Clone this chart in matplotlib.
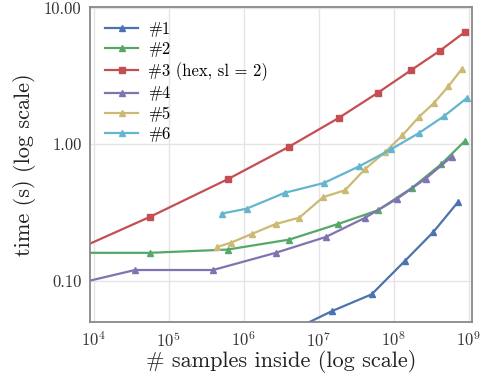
import numpy as np
import matplotlib
matplotlib.use("Agg")
import matplotlib.pyplot as plt
from matplotlib.ticker import FixedLocator, FormatStrFormatter, NullLocator

plt.rcParams['font.family'] = 'serif'
plt.rcParams['font.serif'] = ['cmr10', 'DejaVu Serif']
plt.rcParams['mathtext.fontset'] = 'cm'
plt.rcParams['axes.formatter.use_mathtext'] = True
plt.rcParams['axes.unicode_minus'] = False

# samples inside / time (s)
x1 = [4.0e6, 1.49e7, 5.08e7, 1.40e8, 3.38e8, 7.28e8]
y1 = [0.042, 0.0597, 0.0794, 0.139, 0.2275, 0.380]

x2 = [7.0e3, 5.57e4, 6.08e5, 4.04e6, 1.80e7, 6.14e7, 1.77e8, 4.28e8, 8.95e8]
y2 = [0.160, 0.160, 0.169, 0.200, 0.260, 0.328, 0.481, 0.713, 1.06]

x3 = [7.0e3, 5.57e4, 6.1e5, 3.96e6, 1.85e7, 6.1e7, 1.70e8, 4.11e8, 8.95e8]
y3 = [0.176, 0.293, 0.554, 0.955, 1.56, 2.38, 3.49, 4.84, 6.67]

x4 = [7.0e3, 3.55e4, 3.90e5, 2.67e6, 1.24e7, 4.10e7, 1.12e8, 2.67e8, 5.91e8]
y4 = [0.097, 0.1197, 0.1197, 0.160, 0.209, 0.288, 0.400, 0.560, 0.810]

x5 = [4.42e5, 6.79e5, 1.28e6, 2.66e6, 5.52e6, 1.15e7, 2.24e7, 4.20e7,
      7.73e7, 1.30e8, 2.18e8, 3.45e8, 5.36e8, 8.17e8]
y5 = [0.1765, 0.190, 0.220, 0.260, 0.290, 0.410, 0.460, 0.663,
      0.878, 1.16, 1.59, 2.01, 2.66, 3.59]

x6 = [5.06e5, 1.09e6, 3.54e6, 1.17e7, 3.48e7, 9.14e7, 2.18e8, 4.70e8, 9.53e8]
y6 = [0.310, 0.337, 0.441, 0.520, 0.690, 0.916, 1.21, 1.61, 2.19]

labels = ['#1', '#2', '#3 (hex, sl = 2)', '#4', '#5', '#6']
colors = ['#4C72B0', '#55A868', '#C44E52', '#8172B2', '#CCB974', '#64B5CD']
markers = ['^', '^', 's', '^', '^', '^']

fig = plt.figure(figsize=(4.83, 3.83), dpi=100)
ax = fig.add_axes([0.1863, 0.160, 0.7903, 0.8225])

series = [(x1, y1), (x2, y2), (x3, y3), (x4, y4), (x5, y5), (x6, y6)]
for (xs, ys), lab, c, m in zip(series, labels, colors, markers):
    ax.plot(xs, ys, color=c, marker=m, label=lab, lw=1.6,
            ms=5 if m == 's' else 4.5, mec=c)

ax.set_xscale('log')
ax.set_yscale('log')
ax.set_xlim(10**3.95, 10**9.04)
ax.set_ylim(0.05, 10.2)

ax.xaxis.set_major_locator(FixedLocator([1e4, 1e5, 1e6, 1e7, 1e8, 1e9]))
ax.xaxis.set_minor_locator(NullLocator())
ax.yaxis.set_major_locator(FixedLocator([0.1, 1.0, 10.0]))
ax.yaxis.set_minor_locator(NullLocator())
ax.yaxis.set_major_formatter(FormatStrFormatter('%.2f'))

ax.grid(True, color='#E5E5E5', lw=1.0)
ax.set_axisbelow(True)
ax.tick_params(length=0, labelsize=12, colors='#333333', pad=6)
for s in ax.spines.values():
    s.set_color('#888888')
    s.set_linewidth(1.3)

ax.set_xlabel('# samples inside (log scale)', fontsize=16, color='#222222',
              labelpad=0)
ax.set_ylabel('time (s) (log scale)', fontsize=16, color='#222222',
              labelpad=6)

ax.legend(loc='upper left', frameon=False, fontsize=12, handlelength=2.0,
          handletextpad=0.6, borderaxespad=0.5, labelspacing=0.3)

fig.savefig('out.png', dpi=100)
